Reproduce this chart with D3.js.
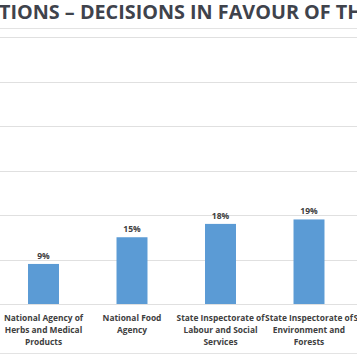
<!DOCTYPE html>
<html><head><meta charset="utf-8">
<script src="https://cdn.jsdelivr.net/npm/d3@7/dist/d3.min.js"></script>
<style>html,body{margin:0;padding:0;background:#fff;overflow:hidden}svg{display:block}</style>
</head><body>
<script>
const title = "TIONS – DECISIONS IN FAVOUR OF TH";
const categories = ["cat1","cat2","cat3","cat4","cat5"];
const labelLines = [
  ["National Agency of","Herbs and Medical","Products"],
  ["National Food","Agency"],
  ["State Inspectorate of","Labour and Social","Services"],
  ["State Inspectorate of","Environment and","Forests"],
  ["State Inspectorate of"]
];
const values = [0.09, 0.15, 0.18, 0.19, null];
const valueLabels = ["9%","15%","18%","19%",""];
const yTicks = [0,0.1,0.2,0.3,0.4,0.5,0.6];

const W=357,H=357;
const svg=d3.select("body").append("svg").attr("width",W).attr("height",H);
const x=d3.scaleBand().domain(categories).range([-0.75,441.75]).paddingInner(0.65).paddingOuter(0.325);
const y=d3.scaleLinear().domain([0,0.6]).range([304,37]);

// frame lines
svg.append("line").attr("x1",0).attr("x2",W).attr("y1",28.5).attr("y2",28.5).attr("stroke","#e3e3e3");
svg.append("line").attr("x1",0).attr("x2",W).attr("y1",353.5).attr("y2",353.5).attr("stroke","#e3e3e3");

// grid
svg.append("g").selectAll("line").data(yTicks).join("line")
  .attr("x1",0).attr("x2",W)
  .attr("y1",d=>Math.round(y(d))+0.5).attr("y2",d=>Math.round(y(d))+0.5)
  .attr("stroke","#e0e0e0");

// title
svg.append("text").attr("x",-1).attr("y",19).text(title)
  .attr("font-family","Open Sans").attr("font-weight","bold").attr("font-size",19.8)
  .attr("fill","#3f434c");

const data=categories.map((c,i)=>({c,v:values[i],lab:valueLabels[i],lines:labelLines[i]}));

svg.append("g").selectAll("rect").data(data.filter(d=>d.v!=null)).join("rect")
  .attr("x",d=>x(d.c)).attr("width",x.bandwidth())
  .attr("y",d=>y(d.v)).attr("height",d=>y(0)-y(d.v))
  .attr("fill","#5b9bd5");

svg.append("g").selectAll("text").data(data.filter(d=>d.v!=null)).join("text")
  .attr("x",d=>x(d.c)+x.bandwidth()/2).attr("y",d=>y(d.v)-5)
  .attr("text-anchor","middle").attr("font-family","Open Sans").attr("font-weight","bold")
  .attr("font-size",8.5).attr("fill","#404040").text(d=>d.lab);

const lg=svg.append("g").selectAll("text").data(data).join("text")
  .attr("x",d=>x(d.c)+x.bandwidth()/2).attr("y",320.5)
  .attr("text-anchor","middle").attr("font-family","Open Sans").attr("font-weight","bold")
  .attr("font-size",8.4).attr("fill","#404040");
lg.selectAll("tspan").data(d=>d.lines.map(l=>({l,cx:x(d.c)+x.bandwidth()/2}))).join("tspan")
  .attr("x",d=>d.cx).attr("dy",(d,i)=>i?12:0).text(d=>d.l);
</script>
</body></html>
